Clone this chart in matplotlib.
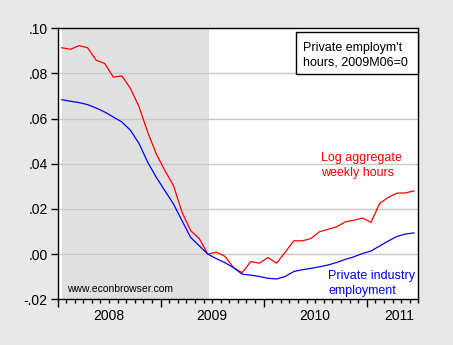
import numpy as np
import matplotlib
matplotlib.use("Agg")
import matplotlib.pyplot as plt
from matplotlib.patches import Rectangle

plt.rcParams['font.family'] = ['Liberation Sans', 'DejaVu Sans']

# Monthly series, 2008M01 - 2011M06, log deviation from 2009M06
start_year = 2008
hours = [0.0914, 0.0907, 0.0923, 0.0914, 0.0859, 0.0844, 0.0784, 0.0789, 0.0733, 0.0652,
         0.0540, 0.0444, 0.0370, 0.0304, 0.0185, 0.0104, 0.0069, 0.0000, 0.0009, -0.0010,
         -0.0060, -0.0082, -0.0033, -0.0040, -0.0015, -0.0040, 0.0008, 0.0059, 0.0059, 0.0069,
         0.0099, 0.0110, 0.0121, 0.0143, 0.0150, 0.0160, 0.0141, 0.0224, 0.0251, 0.0270,
         0.0271, 0.0280]
employment = [0.0684, 0.0677, 0.0671, 0.0662, 0.0647, 0.0629, 0.0607, 0.0585, 0.0548, 0.0489,
              0.0407, 0.0340, 0.0281, 0.0222, 0.0148, 0.0074, 0.0037, 0.0000, -0.0020, -0.0038,
              -0.0060, -0.0089, -0.0093, -0.0099, -0.0107, -0.0110, -0.0099, -0.0077, -0.0069, -0.0063,
              -0.0056, -0.0048, -0.0037, -0.0023, -0.0012, 0.0003, 0.0014, 0.0036, 0.0058, 0.0078,
              0.0089, 0.0094]
year_labels = ['2008', '2009', '2010', '2011']
yticks = [-0.02, 0.00, 0.02, 0.04, 0.06, 0.08, 0.10]
ytick_labels = ['-.02', '.00', '.02', '.04', '.06', '.08', '.10']
recession_end = 17  # 2009M06

months = np.arange(len(hours))

fig = plt.figure(figsize=(4.53, 3.45), dpi=100, facecolor='#e8e8e8')
ax = fig.add_axes([57.5 / 453, 1 - 299.3 / 345, (418.3 - 57.5) / 453, (299.3 - 28.3) / 345])
ax.set_facecolor('white')

ax.set_xlim(-0.5, len(hours) - 0.5)
ax.set_ylim(-0.02, 0.10)

# recession shading
ax.axvspan(0, recession_end + 0.15, color='#e0e0e0', lw=0, zorder=0)

for yv in yticks[1:-1]:
    ax.axhline(yv, color='#c8c8c8', lw=1.0, zorder=1)

ax.plot(months, hours, color='#ff0000', lw=0.9, zorder=3)
ax.plot(months, employment, color='#0000ff', lw=0.9, zorder=3)

ax.set_yticks(yticks)
ax.set_yticklabels(ytick_labels)
ax.tick_params(axis='y', direction='out', length=5, width=1, labelsize=10, pad=2)

# x axis: minor ticks at month boundaries, major at year boundaries
ax.set_xticks(np.arange(-0.5, len(hours), 12))
ax.set_xticks(np.arange(-0.5, len(hours), 1), minor=True)
ax.set_xticklabels([])
ax.tick_params(axis='x', which='major', direction='out', length=6, width=1)
ax.tick_params(axis='x', which='minor', direction='out', length=3, width=1)
label_pos = [5.5, 17.5, 29.5, 39.25]
for pos, lab in zip(label_pos, year_labels):
    ax.text(pos, -0.0245, lab, ha='center', va='top', fontsize=10)

for s in ax.spines.values():
    s.set_color('black')
    s.set_linewidth(1.0)

# series labels, one line each
ax.text(30.2, 0.0412, 'Log aggregate', color='#ff0000', fontsize=9, ha='left', va='baseline')
ax.text(30.2, 0.0344, 'weekly hours', color='#ff0000', fontsize=9, ha='left', va='baseline')
ax.text(31.0, -0.0111, 'Private industry', color='#0000ff', fontsize=9, ha='left', va='baseline')
ax.text(31.0, -0.0178, 'employment', color='#0000ff', fontsize=9, ha='left', va='baseline')
ax.text(0.62, -0.0169, 'www.econbrowser.com', fontsize=7.5, ha='left', va='baseline')

# title box flush with the right spine
ax.add_patch(Rectangle((0.6602, 0.8314), 1.0 - 0.6602, 0.9852 - 0.8314, transform=ax.transAxes,
                       fc='white', ec='black', lw=1.0, zorder=5, clip_on=False))
ax.text(0.6812, 0.9162, "Private employm't", transform=ax.transAxes, fontsize=9,
        ha='left', va='baseline', zorder=6)
ax.text(0.6812, 0.8609, "hours, 2009M06=0", transform=ax.transAxes, fontsize=9,
        ha='left', va='baseline', zorder=6)

fig.savefig('out.png', dpi=100, facecolor=fig.get_facecolor())
